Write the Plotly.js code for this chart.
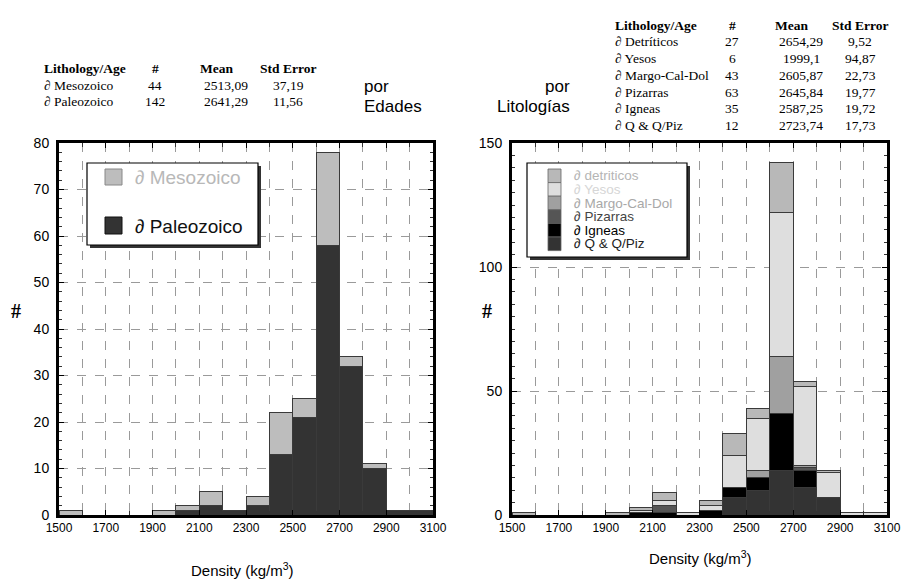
<!DOCTYPE html>
<html><head><meta charset="utf-8">
<script src="https://cdn.plot.ly/plotly-3.0.1.min.js"></script>
<style>html,body{margin:0;padding:0;background:#fff}#c{width:904px;height:579px}</style>
</head><body><div id="c"></div>
<script>
// ---- data ----
const binStarts = [1500,1600,1700,1800,1900,2000,2100,2200,2300,2400,2500,2600,2700,2800,2900,3000];
const xTickLabels = ["1500","1700","1900","2100","2300","2500","2700","2900","3100"];
// left chart (por Edades)
const mesozoico  = [1,0,0,0,1,1,3,0,2,9,4,20,2,1,0,0];
const paleozoico = [0,0,0,0,0,1,2,1,2,13,21,58,32,10,1,1];
// right chart (por Litologías)
const qqpiz      = [0,0,0,0,0,0,0,0,0,7,10,18,11,7,0,0];
const igneas     = [0,0,0,0,0,1,1,0,2,4,5,23,7,0,0,0];
const pizarras   = [0,0,0,0,0,0,3,0,0,0,0,0,1,0,0,0];
const margo      = [0,0,0,0,0,0,0,0,0,0,3,23,1,0,0,0];
const yesos      = [0,0,0,0,0,1,2,1,2,13,21,58,32,10,1,1];
const detriticos = [1,0,0,0,1,1,3,0,2,9,4,20,2,1,0,0];
// tables
const tblAgeNames = ["\u2202 Mesozoico","\u2202 Paleozoico"];
const tblAgeN     = ["44","142"];
const tblAgeMean  = ["2513,09","2641,29"];
const tblAgeSE    = ["37,19","11,56"];
const tblLitNames = ["\u2202 Detríticos","\u2202 Yesos","\u2202 Margo-Cal-Dol","\u2202 Pizarras","\u2202 Igneas","\u2202 Q & Q/Piz"];
const tblLitN     = ["27","6","43","63","35","12"];
const tblLitMean  = ["2654,29","1999,1","2605,87","2645,84","2587,25","2723,74"];
const tblLitSE    = ["9,52","94,87","22,73","19,77","19,72","17,73"];
const tblHeader   = ["Lithology/Age","#","Mean","Std Error"];
const legAge = ["\u2202 Mesozoico","\u2202 Paleozoico"];
const legLit = ["\u2202 detriticos","\u2202 Yesos","\u2202 Margo-Cal-Dol","\u2202 Pizarras","\u2202 Igneas","\u2202 Q & Q/Piz"];

// ---- helpers ----
const W=904,H=579;
const px=x=>x/W, py=y=>1-y/H;
const SANS="Liberation Sans, Arial, Helvetica, sans-serif";
const SERIF="Liberation Serif, Times New Roman, serif";
const outline={color:'#3a3a3a',width:1};

function barTrace(vals,color,xa,ya,name){
  return {type:'bar',x:binStarts,y:vals,offset:0,width:100,xaxis:xa,yaxis:ya,name:name,
    marker:{color:color,line:outline},showlegend:false,hoverinfo:'skip'};
}
const litColors={q:'#333333',ig:'#000000',piz:'#555555',mar:'#a0a0a0',yes:'#dedede',det:'#b8b8b8'};
const data=[
  barTrace(paleozoico,'#333333','x','y','Paleozoico'),
  barTrace(mesozoico,'#bdbdbd','x','y','Mesozoico'),
  barTrace(qqpiz,litColors.q,'x2','y2','Q'),
  barTrace(igneas,litColors.ig,'x2','y2','Igneas'),
  barTrace(pizarras,litColors.piz,'x2','y2','Pizarras'),
  barTrace(margo,litColors.mar,'x2','y2','Margo'),
  barTrace(yesos,litColors.yes,'x2','y2','Yesos'),
  barTrace(detriticos,litColors.det,'x2','y2','detriticos'),
];

const xTickVals=xTickLabels.map(Number);

function xaxis(dom){
  return {domain:dom,range:[1500,3100],tickmode:'array',tickvals:xTickVals,ticktext:xTickLabels,
    ticks:'inside',ticklen:5,tickcolor:'#000',showgrid:true,gridcolor:'#9a9a9a',griddash:'dash',gridwidth:1,
    minor:{dtick:100,tick0:1500,ticks:'inside',ticklen:4,tickcolor:'#333',showgrid:true,gridcolor:'#9a9a9a',griddash:'dash',gridwidth:1},
    showline:true,linewidth:3,linecolor:'#000',mirror:'allticks',zeroline:false,
    tickfont:{family:SANS,size:12,color:'#000'},automargin:false,fixedrange:true};
}
function yaxis(dom,max,dt,mdt){
  return {domain:dom,range:[0,max],dtick:dt,tick0:0,ticks:'inside',ticklen:5,tickcolor:'#000',
    showgrid:true,gridcolor:'#9a9a9a',griddash:'dash',gridwidth:1,
    minor:{dtick:mdt,ticks:'inside',ticklen:3,tickcolor:'#333',showgrid:false},
    showline:true,linewidth:3,linecolor:'#000',mirror:'allticks',zeroline:false,
    tickfont:{family:SANS,size:14,color:'#000'},ticklabelstandoff:4,automargin:false,fixedrange:true};
}
const ydom=[py(515),py(143)];
const layout={
  width:W,height:H,margin:{l:0,r:0,t:0,b:0},paper_bgcolor:'#fff',plot_bgcolor:'#fff',
  barmode:'stack',bargap:0,showlegend:false,
  xaxis:Object.assign(xaxis([px(59),px(433)]),{anchor:'y'}),
  yaxis:Object.assign(yaxis(ydom,80,10,2),{anchor:'x'}),
  xaxis2:Object.assign(xaxis([px(512),px(887)]),{anchor:'y2'}),
  yaxis2:Object.assign(yaxis(ydom,150,50,5),{anchor:'x2'}),
  shapes:[],annotations:[]
};
const A=layout.annotations, S=layout.shapes;
function txt(x,y,t,opt){A.push(Object.assign({xref:'paper',yref:'paper',x:px(x),y:py(y),text:t,showarrow:false,
  xanchor:'left',yanchor:'middle',font:{family:SANS,size:12,color:'#000'}},opt||{}));}
function rect(x0,y0,x1,y1,fill,line){S.push({type:'rect',xref:'paper',yref:'paper',x0:px(x0),x1:px(x1),y0:py(y0),y1:py(y1),
  fillcolor:fill,line:line||{width:0},layer:'above'});}

// axis titles
txt(242,569,'Density (kg/m<sup>3</sup>)',{xanchor:'center',font:{family:SANS,size:15,color:'#000'}});
txt(700,557,'Density (kg/m<sup>3</sup>)',{xanchor:'center',font:{family:SANS,size:15,color:'#000'}});
txt(16,311,'<b>#</b>',{xanchor:'center',font:{family:SERIF,size:20,color:'#000'}});
txt(487,311,'<b>#</b>',{xanchor:'center',font:{family:SERIF,size:20,color:'#000'}});

// "por Edades" / "por Litologías"
const pf={family:SANS,size:17,color:'#000'};
txt(362,87,'por',{font:pf});
txt(362,106,'Edades',{font:pf});
txt(572,86,'por',{xanchor:'right',font:pf});
txt(572,106,'Litologías',{xanchor:'right',font:pf});

// tables
const tf={family:SERIF,size:13.5,color:'#000'};
function table(x0,colN,colMean,colSE,yHead,dy,names,ns,means,ses){
  txt(x0,yHead,'<b>'+tblHeader[0]+'</b>',{font:tf});
  txt(colN,yHead,'<b>'+tblHeader[1]+'</b>',{xanchor:'center',font:tf});
  txt(colMean,yHead,'<b>'+tblHeader[2]+'</b>',{xanchor:'center',font:tf});
  txt(colSE,yHead,'<b>'+tblHeader[3]+'</b>',{xanchor:'center',font:tf});
  for(let i=0;i<names.length;i++){
    const y=yHead+dy*(i+1);
    txt(x0,y,names[i],{font:tf});
    txt(colN,y,ns[i],{xanchor:'center',font:tf});
    txt(colMean+10,y,means[i],{xanchor:'center',font:tf});
    txt(colSE,y,ses[i],{xanchor:'center',font:tf});
  }
}
table(42,155,216,288,69,16.5,tblAgeNames,tblAgeN,tblAgeMean,tblAgeSE);
table(613,732,791,860,25,16.8,tblLitNames,tblLitN,tblLitMean,tblLitSE);

// left legend
rect(90,166,261,248,'#333');
rect(87,163,258,245,'#fff',{color:'#000',width:1.2});
rect(105,169,122,185,'#bdbdbd',{color:'#888',width:1});
rect(105,217,122,234,'#333',{color:'#111',width:1});
txt(133,177,legAge[0],{font:{family:SANS,size:19,color:'#b8b8b8'}});
txt(133,226,legAge[1],{font:{family:SANS,size:19,color:'#111'}});

// right legend
rect(530,166,690,260,'#333');
rect(527,163,687,257,'#fff',{color:'#000',width:1.2});
const litSw=[litColors.det,litColors.yes,litColors.mar,litColors.piz,litColors.ig,litColors.q];
const litTxt=['#b5b5b5','#d6d6d6','#a8a8a8','#444444','#000000','#222222'];
for(let i=0;i<6;i++){
  const y0=169+i*13.6;
  rect(548,y0,561,y0+13.6,litSw[i],{color:'#666',width:0.8});
  txt(572,y0+6.8,legLit[i],{font:{family:SANS,size:13.5,color:litTxt[i]}});
}

Plotly.newPlot('c',data,layout,{staticPlot:true,displayModeBar:false});
</script></body></html>
